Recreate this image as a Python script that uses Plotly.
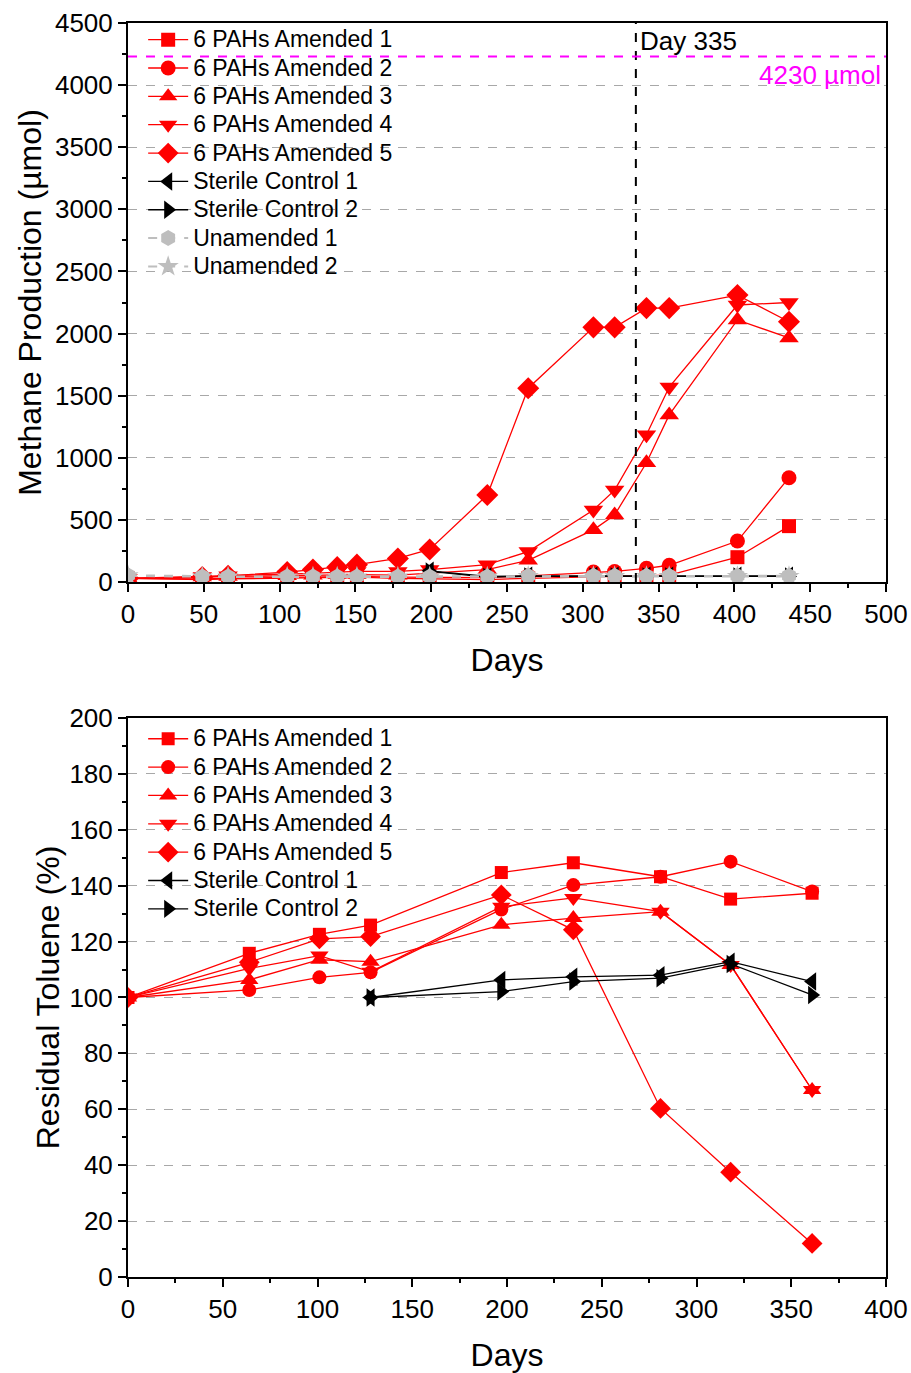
import plotly.graph_objects as go

# ---------------- Top chart data: Methane production (µmol) ----------------
days_top = [0, 49, 66, 105, 122, 138, 151, 178, 199, 237, 264, 307, 321, 342, 357, 402, 436]
pah1_top = [30, 20, 25, 30, 35, 40, 40, 30, 25, 20, 30, 40, 45, 50, 55, 200, 450]
pah2_top = [30, 25, 30, 35, 40, 45, 45, 40, 40, 35, 50, 80, 85, 110, 135, 330, 840]
pah3_top = [30, 40, 45, 50, 55, 60, 60, 55, 70, 100, 175, 420, 540, 960, 1345, 2110, 1965]
pah4_top = [30, 45, 50, 60, 70, 80, 85, 85, 100, 140, 245, 580, 740, 1185, 1570, 2230, 2250]
pah5_top = [30, 40, 50, 80, 100, 120, 140, 190, 262, 700, 1560, 2050, 2050, 2205, 2205, 2310, 2095]
days_ster_top = [199, 237, 264, 307, 321, 342, 357, 402, 436]
ster1_top = [90, 45, 50, 50, 50, 50, 50, 50, 50]
ster2_top = [85, 40, 45, 45, 45, 45, 45, 45, 45]
unam1_top = [55, 45, 45, 45, 45, 45, 45, 45, 45, 45, 50, 50, 50, 50, 50, 50, 50]
unam2_top = [50, 40, 40, 40, 40, 40, 40, 40, 40, 40, 45, 45, 45, 45, 45, 45, 45]
day_marker = 335
max_methane = 4230

# ---------------- Bottom chart data: Residual toluene (%) ----------------
days_bot = [0, 64, 101, 128, 197, 235, 281, 318, 361]
pah1_bot = [100, 115.8, 122.6, 125.9, 144.7, 148.2, 143.2, 135.2, 137.3]
pah2_bot = [100, 102.7, 107.2, 109.0, 131.5, 140.2, 143.2, 148.6, 137.9]
pah3_bot = [100, 106.3, 113.5, 112.8, 126.0, 128.4, 130.7, 111.6, 66.9]
pah4_bot = [100, 110.4, 115.0, 109.2, 132.5, 135.6, 130.7, 111.6, 66.9]
pah5_bot = [100, 112.6, 121.0, 121.8, 136.7, 124.2, 60.3, 37.5, 12.0]
days_ster_bot = [128, 197, 235, 281, 318, 361]
ster1_bot = [100, 106.3, 107.4, 108.0, 112.8, 105.7]
ster2_bot = [100, 102.1, 105.7, 106.9, 112.0, 100.9]

names_pah = ["6 PAHs Amended 1", "6 PAHs Amended 2", "6 PAHs Amended 3",
             "6 PAHs Amended 4", "6 PAHs Amended 5"]
symbols_pah = ["square", "circle", "triangle-up", "triangle-down", "diamond"]
sizes_pah_top = [14, 15, 17, 17, 17]
sizes_pah_bot = [13, 14, 16, 16, 16]

RED = "#FF0000"
GRAY = "#BEBEBE"
FONT = "Arial, Liberation Sans, sans-serif"
LEG_TEXT = "<span style='font-size:23px'>{}</span>"

fig = go.Figure()

def add(x, y, name, sym, color, row_axes, legend, size, dash="solid", lw=1.3):
    xa, ya = row_axes
    fig.add_trace(go.Scatter(
        x=x, y=y, name=LEG_TEXT.format(name), mode="lines+markers",
        line=dict(color=color, width=lw, dash=dash),
        marker=dict(symbol=sym, size=size, color=color, line=dict(width=0)),
        xaxis=xa, yaxis=ya, legend=legend, hoverinfo="x+y"))

top = ("x", "y")
bot = ("x2", "y2")

for ys, nm, sym, sz in zip([pah1_top, pah2_top, pah3_top, pah4_top, pah5_top], names_pah, symbols_pah, sizes_pah_top):
    add(days_top, ys, nm, sym, RED, top, "legend", sz)
add(days_ster_top, ster1_top, "Sterile Control 1", "triangle-left", "black", top, "legend", 16)
add(days_ster_top, ster2_top, "Sterile Control 2", "triangle-right", "black", top, "legend", 16)
add(days_top, unam1_top, "Unamended 1", "hexagon", GRAY, top, "legend", 16, dash="dash", lw=2)
add(days_top, unam2_top, "Unamended 2", "star", GRAY, top, "legend", 16, dash="dash", lw=2)

for ys, nm, sym, sz in zip([pah1_bot, pah2_bot, pah3_bot, pah4_bot, pah5_bot], names_pah, symbols_pah, sizes_pah_bot):
    add(days_bot, ys, nm, sym, RED, bot, "legend2", sz)
add(days_ster_bot, ster1_bot, "Sterile Control 1", "triangle-left", "black", bot, "legend2", 16)
add(days_ster_bot, ster2_bot, "Sterile Control 2", "triangle-right", "black", bot, "legend2", 16)

axis_common = dict(
    showline=True, linecolor="black", linewidth=2, mirror=True,
    ticks="outside", ticklen=8, tickwidth=2, tickcolor="black",
    tickfont=dict(family=FONT, size=26, color="black"),
    zeroline=False, automargin=False,
)
grid_y = dict(showgrid=True, gridcolor="#A8A8A8", gridwidth=1, griddash="dash")
title_font = dict(family=FONT, size=32, color="black")
leg_font = dict(family=FONT, size=19.5, color="black")

top_dom = [0.5542, 1.0]
bot_dom = [0.0, 0.4458]

fig.update_layout(
    width=911, height=1373,
    paper_bgcolor="white", plot_bgcolor="white",
    margin=dict(l=128, r=25, t=23, b=96, autoexpand=False),
    font=dict(family=FONT, color="black"),
    xaxis=dict(**axis_common, domain=[0, 1], anchor="y", range=[0, 500], dtick=50,
               showgrid=False,
               minor=dict(ticks="outside", ticklen=4, tickwidth=1.5, dtick=25, tickcolor="black", showgrid=False),
               title=dict(text="Days", font=title_font, standoff=20)),
    yaxis=dict(**axis_common, **grid_y, domain=top_dom, anchor="x", range=[0, 4500], dtick=500,
               minor=dict(ticks="outside", ticklen=4, tickwidth=1.5, dtick=250, tickcolor="black", showgrid=False),
               title=dict(text="Methane Production (µmol)", font=title_font, standoff=4)),
    xaxis2=dict(**axis_common, domain=[0, 1], anchor="y2", range=[0, 400], dtick=50,
                showgrid=False,
                minor=dict(ticks="outside", ticklen=4, tickwidth=1.5, dtick=25, tickcolor="black", showgrid=False),
                title=dict(text="Days", font=title_font, standoff=21)),
    yaxis2=dict(**axis_common, **grid_y, domain=bot_dom, anchor="x2", range=[0, 200], dtick=20,
                minor=dict(ticks="outside", ticklen=4, tickwidth=1.5, dtick=10, tickcolor="black", showgrid=False),
                title=dict(text="Residual Toluene (%)", font=title_font, standoff=0)),
    legend=dict(x=0.02, y=1.002, xanchor="left", yanchor="top", bgcolor="rgba(0,0,0,0)",
                font=leg_font, itemwidth=40, tracegroupgap=0),
    legend2=dict(x=0.02, y=0.4445, xanchor="left", yanchor="top", bgcolor="rgba(0,0,0,0)",
                 font=leg_font, itemwidth=40, tracegroupgap=0),
    showlegend=True,
)

# Day 335 vertical dashed line and 4230 µmol line
fig.add_shape(type="line", xref="x", yref="y domain", x0=day_marker, x1=day_marker, y0=0, y1=1,
              line=dict(color="black", width=2, dash="dash"))
fig.add_shape(type="line", xref="x domain", yref="y", x0=0, x1=1, y0=max_methane, y1=max_methane,
              line=dict(color="#FF00FF", width=2, dash="dash"))
fig.add_annotation(x=day_marker, y=4500, xref="x", yref="y", text="Day 335", showarrow=False,
                   xanchor="left", yanchor="top", xshift=2, yshift=-1,
                   font=dict(family=FONT, size=26, color="black"))
fig.add_annotation(x=1, y=max_methane, xref="x domain", yref="y", text="4230 µmol", showarrow=False,
                   xanchor="right", yanchor="top", xshift=-3, yshift=-1,
                   font=dict(family=FONT, size=26, color="#FF00FF"))

fig.write_html("out.html", config={"displayModeBar": False},
               post_script="document.body.style.margin='0';document.body.style.padding='0';")
